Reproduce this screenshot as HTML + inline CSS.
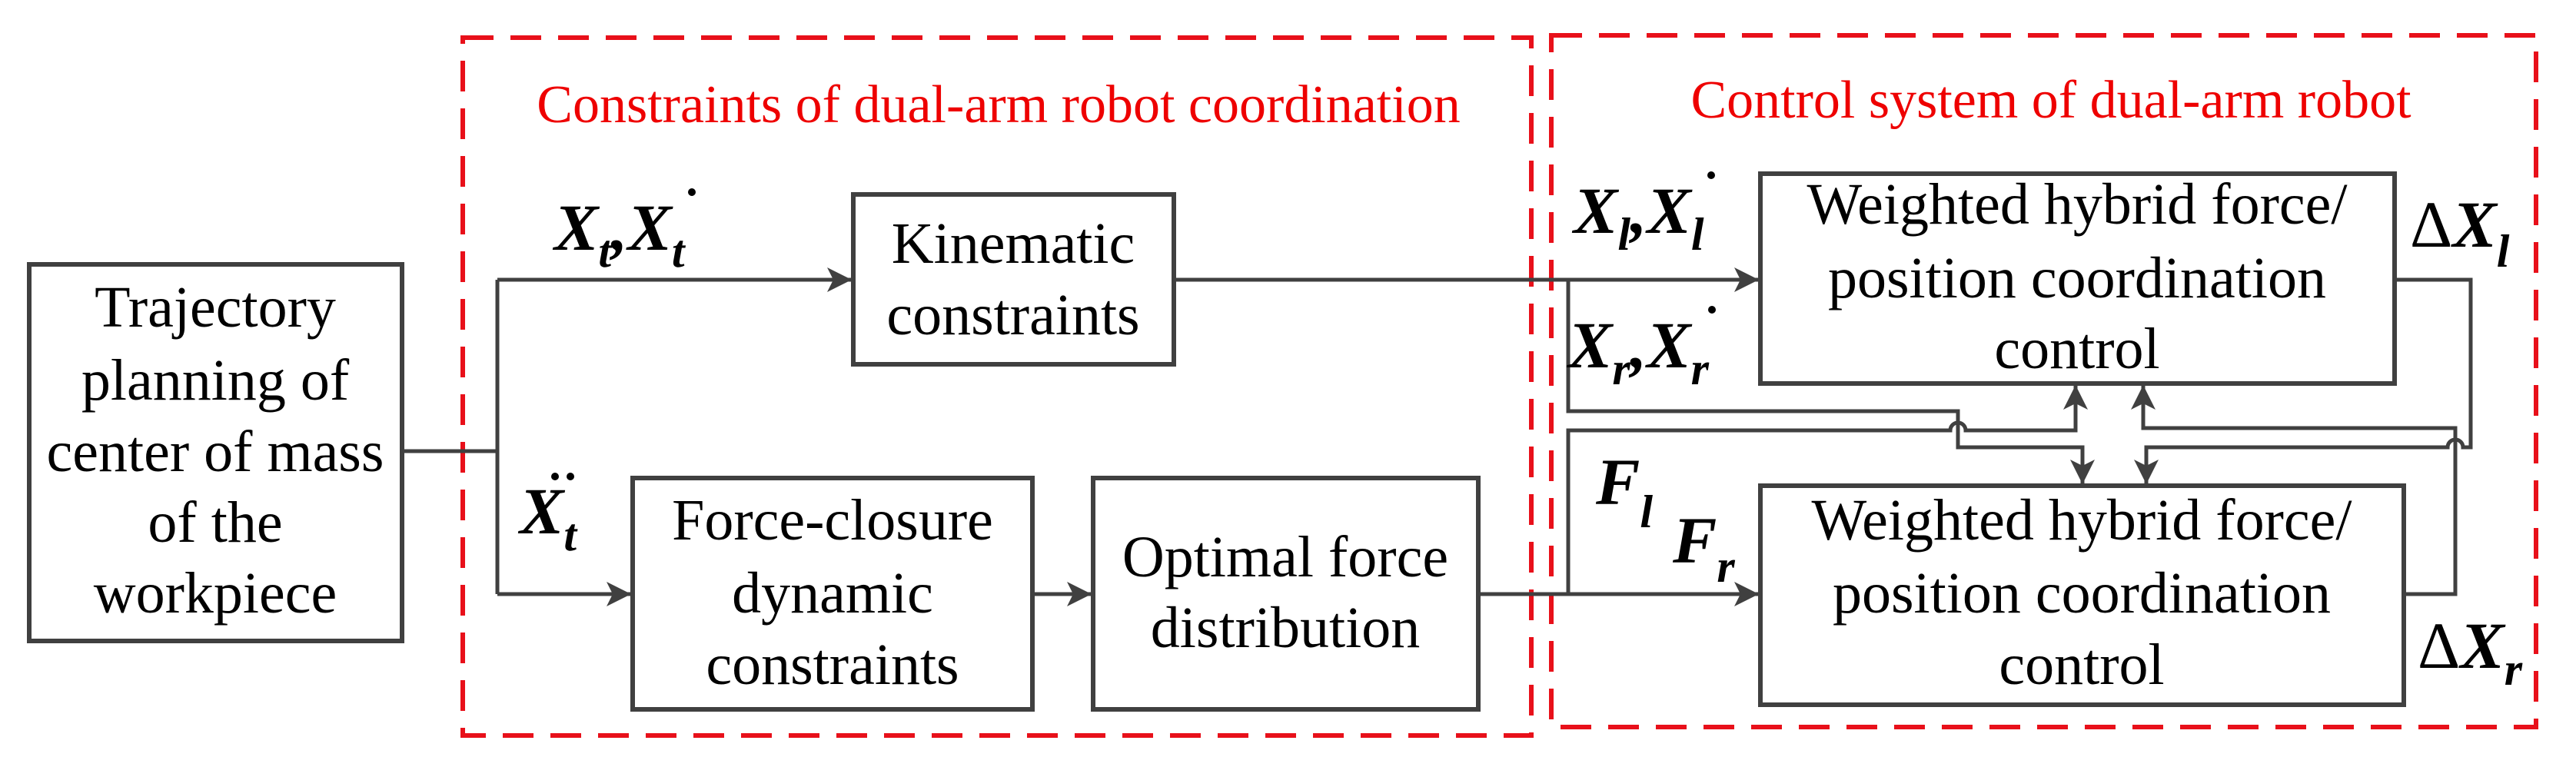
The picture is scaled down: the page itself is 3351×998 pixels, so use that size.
<!DOCTYPE html>
<html><head><meta charset="utf-8"><style>
html,body{margin:0;padding:0;background:#fff;}
svg{display:block;}
.t{font-family:"Liberation Serif",serif;font-size:76px;fill:#000;text-anchor:middle;}
.r{font-family:"Liberation Serif",serif;font-size:70px;fill:#e00;text-anchor:middle;}
.m{font-family:"Liberation Serif",serif;font-size:86px;font-weight:bold;font-style:italic;fill:#000;}
.s{font-size:60px;}
</style></head><body>
<svg width="3351" height="998" viewBox="0 0 3351 998" xmlns="http://www.w3.org/2000/svg">
<defs>
<marker id="a" markerWidth="32" markerHeight="32" refX="32" refY="16" orient="auto" markerUnits="userSpaceOnUse">
<path d="M0,0 L32,16 L0,32 L8,16 Z" fill="#404040"/>
</marker>
</defs>
<!-- red dashed boxes -->
<g fill="none" stroke="#e8101a" stroke-width="6" stroke-dasharray="40,22">
<rect x="602" y="49" width="1390" height="908"/>
<rect x="2018" y="46" width="1281" height="900"/>
</g>
<text class="r" x="1299" y="159">Constraints of dual-arm robot coordination</text>
<text class="r" x="2668" y="153">Control system of dual-arm robot</text>

<!-- boxes -->
<g fill="#fff" stroke="#404040" stroke-width="6">
<rect x="38" y="344" width="485" height="490"/>
<rect x="1110" y="253" width="417" height="221"/>
<rect x="823" y="622" width="520" height="301"/>
<rect x="1422" y="622" width="501" height="301"/>
<rect x="2290" y="226" width="825" height="273"/>
<rect x="2290" y="632" width="837" height="285"/>
</g>

<!-- connectors -->
<g fill="none" stroke="#404040" stroke-width="5">
<path d="M523,587 H647"/>
<path d="M647,364 V773"/>
<path d="M647,364 H1108" marker-end="url(#a)"/>
<path d="M647,773 H821" marker-end="url(#a)"/>
<path d="M1343,773 H1420" marker-end="url(#a)"/>
<path d="M1527,364 H2288" marker-end="url(#a)"/>
<path d="M1923,773 H2288" marker-end="url(#a)"/>
<!-- Xr branch -->
<path d="M2040,364 V535 H2547 V582 H2709 V630" marker-end="url(#a)"/>
<!-- F branch with hop -->
<path d="M2040,773 V560 H2537 A10,10 0 0 1 2557,560 H2700 V501" marker-end="url(#a)"/>
<!-- dXl -->
<path d="M3115,364 H3214 V582 H3204 A10,10 0 0 0 3184,582 H2792 V630" marker-end="url(#a)"/>
<!-- dXr -->
<path d="M3127,773 H3194 V557 H2788 V501" marker-end="url(#a)"/>
</g>

<!-- box texts -->
<g class="t">
<text x="280" y="425">Trajectory</text>
<text x="280" y="520">planning of</text>
<text x="280" y="613">center of mass</text>
<text x="280" y="705">of the</text>
<text x="280" y="797">workpiece</text>
<text x="1318" y="342">Kinematic</text>
<text x="1318" y="435">constraints</text>
<text x="1083" y="702">Force-closure</text>
<text x="1083" y="797">dynamic</text>
<text x="1083" y="890">constraints</text>
<text x="1672" y="750">Optimal force</text>
<text x="1672" y="842">distribution</text>
<text x="2702" y="291">Weighted hybrid force/</text>
<text x="2702" y="387">position coordination</text>
<text x="2702" y="479">control</text>
<text x="2708" y="702">Weighted hybrid force/</text>
<text x="2708" y="797">position coordination</text>
<text x="2708" y="890">control</text>
</g>

<!-- math labels -->
<text class="m" x="721" y="325">X<tspan class="s" dy="22">t</tspan><tspan dy="-22">,</tspan>X<tspan class="s" dy="22">t</tspan></text>
<circle cx="900" cy="250" r="5" fill="#000"/>
<text class="m" x="676" y="694">X<tspan class="s" dy="22">t</tspan></text>
<circle cx="722" cy="620" r="5" fill="#000"/><circle cx="742" cy="620" r="5" fill="#000"/>
<text class="m" x="2047" y="303">X<tspan class="s" dy="22">l</tspan><tspan dy="-22">,</tspan>X<tspan class="s" dy="22">l</tspan></text>
<circle cx="2226" cy="228" r="5" fill="#000"/>
<text class="m" x="2040" y="478">X<tspan class="s" dy="22">r</tspan><tspan dy="-22">,</tspan>X<tspan class="s" dy="22">r</tspan></text>
<circle cx="2227" cy="403" r="5" fill="#000"/>
<text class="m" x="2076" y="656">F<tspan class="s" dy="30">l</tspan></text>
<text class="m" x="2176" y="732">F<tspan class="s" dy="25">r</tspan></text>
<text class="m" x="3135" y="321"><tspan font-style="normal" font-weight="normal">Δ</tspan>X<tspan class="s" dy="26">l</tspan></text>
<text class="m" x="3145" y="869"><tspan font-style="normal" font-weight="normal">Δ</tspan>X<tspan class="s" dy="22">r</tspan></text>
</svg>
</body></html>
